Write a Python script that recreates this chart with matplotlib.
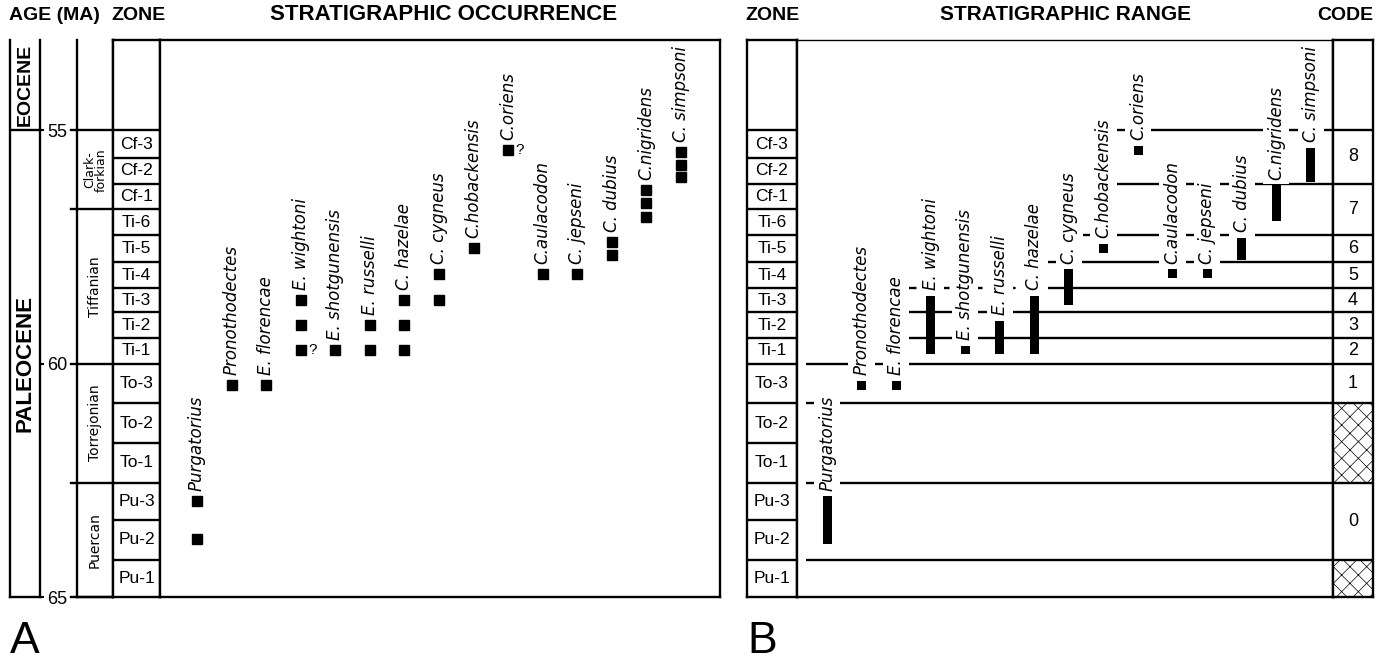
import matplotlib
matplotlib.use('Agg')
import matplotlib.pyplot as plt

plt.rcParams['font.family'] = ['Liberation Sans', 'DejaVu Sans']
plt.rcParams['hatch.linewidth'] = 0.5

# biostratigraphic zones: top age of each zone (Ma)
zones = ['Cf-3', 'Cf-2', 'Cf-1', 'Ti-6', 'Ti-5', 'Ti-4', 'Ti-3', 'Ti-2', 'Ti-1',
         'To-3', 'To-2', 'To-1', 'Pu-3', 'Pu-2', 'Pu-1']
zone_tops = [55.0, 55.6, 56.15, 56.7, 57.25, 57.83, 58.38, 58.9, 59.45,
             60.0, 60.85, 61.7, 62.55, 63.35, 64.2]
base_age = 65.0
top_age = 53.07

stages = ['Clark-\nforkian', 'Tiffanian', 'Torrejonian', 'Puercan']
stage_tops = [55.0, 56.7, 60.0, 62.55]
epochs = ['EOCENE', 'PALEOCENE']
epoch_tops = [top_age, 55.0]
age_ticks = [55, 60, 65]

# code column of panel B ('' = hatched cell)
codes = ['8', '7', '6', '5', '4', '3', '2', '1', '', '0', '']
code_tops = [55.0, 56.15, 57.25, 57.83, 58.38, 58.9, 59.45, 60.0, 60.85, 62.55, 64.2]

species = ['Purgatorius', 'Pronothodectes', 'E. florencae', 'E. wightoni',
           'E. shotgunensis', 'E. russelli', 'C. hazelae', 'C. cygneus',
           'C.hobackensis', 'C.oriens', 'C.aulacodon', 'C. jepseni',
           'C. dubius', 'C.nigridens', 'C. simpsoni']
occurrences = [[62.94, 63.76], [60.46], [60.46], [58.64, 59.18, 59.71],
               [59.71], [59.18, 59.71], [58.64, 59.18, 59.71], [58.08, 58.64],
               [57.53], [55.43], [58.08], [58.08],
               [57.40, 57.68], [56.28, 56.56, 56.86], [55.47, 55.75, 56.01]]
queried = {'E. wightoni': 59.71, 'C.oriens': 55.43}

# boundary lines of panel B: where each starts and how far it is dashed
line_start = [8.27, 8.35, 7.4, 6.3, 2.31, 2.31, 2.31, -0.61, -0.61, -0.61, -0.61]
line_dash_to = [8.27, 8.35, 7.4, 6.3, 6.3, 2.31, 2.31, -0.61, -0.61, -0.61, -0.61]

W, H = 1388, 660
LW = 1.7
fig = plt.figure(figsize=(W / 100, H / 100), dpi=100)


def px_axes(x0, x1, y0=40, y1=597):
    ax = fig.add_axes([x0 / W, 1 - y1 / H, (x1 - x0) / W, (y1 - y0) / H])
    ax.set_ylim(base_age, top_age)
    ax.set_xticks([])
    ax.set_yticks([])
    for s in ax.spines.values():
        s.set_linewidth(LW)
    return ax


def zone_column(ax):
    ax.set_xlim(0, 1)
    for t in zone_tops:
        ax.axhline(t, color='black', lw=LW)
    bottoms = zone_tops[1:] + [base_age]
    for name, t, b in zip(zones, zone_tops, bottoms):
        ax.text(0.5, (t + b) / 2, name, ha='center', va='center', fontsize=12.5)


def species_labels(ax, boxed):
    for i, (name, ages) in enumerate(zip(species, occurrences)):
        kw = {}
        if boxed:
            kw['bbox'] = dict(boxstyle='square,pad=0.25', fc='white', ec='none')
        ax.text(i, min(ages) - 0.21, name, rotation=90, ha='center', va='bottom',
                fontsize=12, fontstyle='italic', family='DejaVu Sans', zorder=2, **kw)


# ---------------- panel A ----------------
ax_ep = px_axes(10, 40)
ax_ep.set_xlim(0, 1)
ax_ep.spines['top'].set_visible(False)
ax_ep.yaxis.tick_right()
ax_ep.set_yticks(age_ticks)
ax_ep.set_yticklabels([])
ax_ep.tick_params(axis='y', direction='out', length=3, width=1.5)
ax_ep.axhline(55.0, color='black', lw=LW)
for name, t, b, fs in zip(epochs, epoch_tops, epoch_tops[1:] + [base_age], [14, 16]):
    ax_ep.text(0.5, (t + b) / 2, name, rotation=90, ha='center', va='center',
               fontweight='bold', fontsize=fs)

ax_st = px_axes(77, 113)
ax_st.set_xlim(0, 1)
ax_st.spines['top'].set_visible(False)
ax_st.set_yticks(age_ticks)
ax_st.set_yticklabels([str(a) for a in age_ticks])
ax_st.tick_params(axis='y', length=0, pad=7, labelsize=13)
for t in stage_tops + [base_age]:
    ax_st.plot([-0.17, 1], [t, t], color='black', lw=LW, clip_on=False,
               transform=ax_st.get_yaxis_transform())
for name, t, b in zip(stages, stage_tops, stage_tops[1:] + [base_age]):
    ax_st.text(0.5, (t + b) / 2, name, rotation=90, ha='center', va='center',
               family='DejaVu Sans', fontsize=9 if '\n' in name else 10,
               linespacing=0.85)

ax_za = px_axes(113, 160)
zone_column(ax_za)

ax_a = px_axes(160, 720)
ax_a.set_xlim(-1.07, 15.13)
for i, ages in enumerate(occurrences):
    ax_a.plot([i] * len(ages), ages, 's', color='black', ms=6.5, ls='none', zorder=3)
species_labels(ax_a, boxed=False)
for name, age in queried.items():
    ax_a.text(species.index(name) + 0.22, age, '?', ha='left', va='center', fontsize=11)

# ---------------- panel B ----------------
ax_zb = px_axes(747, 797)
zone_column(ax_zb)

ax_b = px_axes(797, 1333)
B_RIGHT = 14.64
ax_b.set_xlim(-0.87, B_RIGHT)
ax_b.spines['top'].set_linewidth(1.0)
for age, x0, xd in zip(code_tops, line_start, line_dash_to):
    if xd > x0:
        ax_b.hlines(age, x0, xd, color='black', lw=LW, linestyles=(0, (4, 3)), zorder=1)
    ax_b.hlines(age, xd, B_RIGHT, color='black', lw=LW, zorder=1)
half = 0.096
for i, ages in enumerate(occurrences):
    lo, hi = min(ages), max(ages)
    ax_b.bar(i, hi - lo + 2 * half, bottom=lo - half, width=0.26,
             color='black', zorder=3)
species_labels(ax_b, boxed=True)

ax_c = px_axes(1333, 1373)
ax_c.set_xlim(0, 1)
for t in code_tops:
    ax_c.axhline(t, color='black', lw=LW)
for code, t, b in zip(codes, code_tops, code_tops[1:] + [base_age]):
    if code:
        ax_c.text(0.5, (t + b) / 2, code, ha='center', va='center', fontsize=13)
    else:
        ax_c.axhspan(t, b, facecolor='none', edgecolor='black', hatch='xx', linewidth=0)

# ---------------- headings ----------------
hy = 1 - 15 / H
head = dict(fontweight='bold', fontsize=14, va='center')
fig.text(9 / W, hy, 'AGE (MA)', ha='left', **head)
fig.text(111 / W, hy, 'ZONE', ha='left', **head)
fig.text(444 / W, hy, 'STRATIGRAPHIC OCCURRENCE', ha='center', fontweight='bold',
         fontsize=16, va='center')
fig.text(745 / W, hy, 'ZONE', ha='left', **head)
fig.text(1065 / W, hy, 'STRATIGRAPHIC RANGE', ha='center', fontweight='bold',
         fontsize=15, va='center')
fig.text(1373 / W, hy, 'CODE', ha='right', **head)
fig.text(10 / W, 1 - 653 / H, 'A', fontsize=32, va='baseline')
fig.text(747 / W, 1 - 653 / H, 'B', fontsize=32, va='baseline')

fig.savefig('out.png', dpi=100)
